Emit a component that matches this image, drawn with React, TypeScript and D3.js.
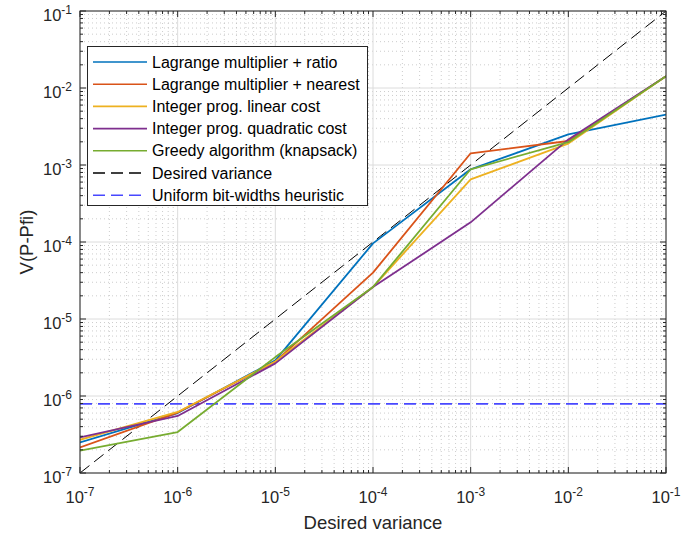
import React from "react";
import * as d3 from "d3";

const targets = [1e-7, 1e-6, 1e-5, 1e-4, 1e-3, 1e-2, 1e-1];

const lagrangeRatio = [2.5e-7, 6.0e-7, 2.9e-6, 9.6e-5, 8.8e-4, 2.5e-3, 4.5e-3];
const lagrangeNearest = [2.15e-7, 6.1e-7, 2.8e-6, 4.0e-5, 1.42e-3, 2.05e-3, 1.42e-2];
const intLinear = [2.7e-7, 6.2e-7, 2.8e-6, 2.6e-5, 6.5e-4, 1.9e-3, 1.42e-2];
const intQuadratic = [2.9e-7, 5.5e-7, 2.65e-6, 2.6e-5, 1.8e-4, 2.15e-3, 1.42e-2];
const greedy = [1.95e-7, 3.4e-7, 3.2e-6, 2.6e-5, 8.8e-4, 1.98e-3, 1.42e-2];
const uniformLevel = 7.9e-7;

const decades = [-7, -6, -5, -4, -3, -2, -1];

const seriesNames = [
  "Lagrange multiplier + ratio",
  "Lagrange multiplier + nearest",
  "Integer prog. linear cost",
  "Integer prog. quadratic cost",
  "Greedy algorithm (knapsack)",
];
const seriesValues = [lagrangeRatio, lagrangeNearest, intLinear, intQuadratic, greedy];
const seriesColors = ["#0072BD", "#D95319", "#EDB120", "#7E2F8E", "#77AC30"];

const W = 681;
const H = 536;
const L = 80;
const R = 666;
const T = 11;
const B = 473;
const FONT = "'Liberation Sans', Arial, Helvetica, sans-serif";

export default function App() {
  const x = d3.scaleLog().domain([1e-7, 1e-1]).range([L, R]);
  const y = d3.scaleLog().domain([1e-7, 1e-1]).range([B, T]);

  const minorVals: number[] = [];
  for (let e = -7; e < -1; e++) {
    for (let k = 2; k <= 9; k++) minorVals.push(k * Math.pow(10, e));
  }
  const majorVals = decades.map((d) => Math.pow(10, d));

  const line = d3
    .line<number>()
    .x((_, i) => x(targets[i]))
    .y((d) => y(d));

  const legendRows = [
    ...seriesNames.map((n, i) => ({ name: n, color: seriesColors[i], dash: "" })),
    { name: "Desired variance", color: "#000", dash: "12,6" },
    { name: "Uniform bit-widths heuristic", color: "#4848ff", dash: "12,6" },
  ];

  const tickLen = 6;
  const minorLen = 3;

  return (
    <svg width={W} height={H} style={{ position: "absolute", left: 0, top: 0, background: "#fff" }}>
      <defs>
        <clipPath id="plotclip">
          <rect x={L} y={T} width={R - L} height={B - T} />
        </clipPath>
      </defs>
      {/* minor grid */}
      <g stroke="#8a8a8a" strokeWidth={0.7} strokeDasharray="1,3" opacity={0.6}>
        {minorVals.map((v, i) => (
          <line key={"mx" + i} x1={x(v)} x2={x(v)} y1={T} y2={B} />
        ))}
        {minorVals.map((v, i) => (
          <line key={"my" + i} x1={L} x2={R} y1={y(v)} y2={y(v)} />
        ))}
      </g>
      {/* major grid */}
      <g stroke="#dcdcdc" strokeWidth={1}>
        {majorVals.map((v, i) => (
          <line key={"gx" + i} x1={x(v)} x2={x(v)} y1={T} y2={B} />
        ))}
        {majorVals.map((v, i) => (
          <line key={"gy" + i} x1={L} x2={R} y1={y(v)} y2={y(v)} />
        ))}
      </g>

      <g clipPath="url(#plotclip)">
        {/* desired variance reference */}
        <line
          x1={x(1e-7)}
          y1={y(1e-7)}
          x2={x(1e-1)}
          y2={y(1e-1)}
          stroke="#000"
          strokeWidth={1}
          strokeDasharray="12,6"
        />
        {/* uniform heuristic */}
        <line
          x1={L}
          x2={R}
          y1={y(uniformLevel)}
          y2={y(uniformLevel)}
          stroke="#4848ff"
          strokeWidth={1.6}
          strokeDasharray="12,6"
        />
        {seriesValues.map((vals, i) => (
          <path
            key={i}
            d={line(vals) || ""}
            fill="none"
            stroke={seriesColors[i]}
            strokeWidth={1.8}
            strokeLinejoin="round"
          />
        ))}
      </g>

      {/* axes box and ticks */}
      <g stroke="#262626" strokeWidth={1}>
        <rect x={L} y={T} width={R - L} height={B - T} fill="none" />
        {majorVals.map((v, i) => (
          <g key={"t" + i}>
            <line x1={x(v)} x2={x(v)} y1={B} y2={B - tickLen} />
            <line x1={x(v)} x2={x(v)} y1={T} y2={T + tickLen} />
            <line x1={L} x2={L + tickLen} y1={y(v)} y2={y(v)} />
            <line x1={R} x2={R - tickLen} y1={y(v)} y2={y(v)} />
          </g>
        ))}
        {minorVals.map((v, i) => (
          <g key={"mt" + i}>
            <line x1={x(v)} x2={x(v)} y1={B} y2={B - minorLen} />
            <line x1={x(v)} x2={x(v)} y1={T} y2={T + minorLen} />
            <line x1={L} x2={L + minorLen} y1={y(v)} y2={y(v)} />
            <line x1={R} x2={R - minorLen} y1={y(v)} y2={y(v)} />
          </g>
        ))}
      </g>

      {/* tick labels */}
      <g fontFamily={FONT} fill="#262626">
        {decades.map((d, i) => (
          <text key={"xl" + i} x={x(Math.pow(10, d))} y={503} fontSize={16.5} textAnchor="middle">
            10
            <tspan dy={-7} fontSize={12}>
              {d}
            </tspan>
          </text>
        ))}
        {decades.map((d, i) => (
          <text key={"yl" + i} x={72} y={y(Math.pow(10, d)) + 9.5} fontSize={16.5} textAnchor="end">
            10
            <tspan dy={-7} fontSize={12}>
              {d}
            </tspan>
          </text>
        ))}
        <text x={(L + R) / 2} y={529} fontSize={18.5} textAnchor="middle">
          Desired variance
        </text>
        <text
          transform={`translate(33,${(T + B) / 2}) rotate(-90)`}
          fontSize={18.5}
          textAnchor="middle"
        >
          V(P-Pfi)
        </text>
      </g>

      {/* legend */}
      <g fontFamily={FONT}>
        <rect x={87.5} y={46.5} width={280} height={159} fill="#fff" stroke="#262626" strokeWidth={1} />
        {legendRows.map((r, i) => {
          const cy = 62 + i * 22.2;
          return (
            <g key={"lg" + i}>
              <line
                x1={93}
                x2={147}
                y1={cy}
                y2={cy}
                stroke={r.color}
                strokeWidth={1.6}
                strokeDasharray={r.dash || undefined}
              />
              <text x={152} y={cy + 5.5} fontSize={16} fill="#000">
                {r.name}
              </text>
            </g>
          );
        })}
      </g>
    </svg>
  );
}
